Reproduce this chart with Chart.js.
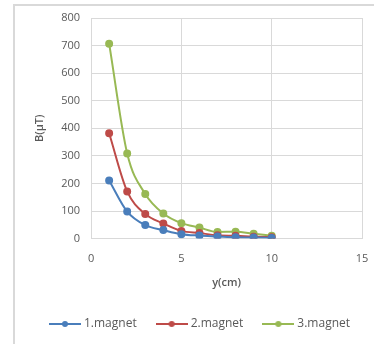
<!DOCTYPE html>
<html>
<head>
<meta charset="utf-8">
<script src="https://cdn.jsdelivr.net/npm/chart.js@4.4.0/dist/chart.umd.min.js"></script>
<style>
  html, body { margin: 0; padding: 0; background: #fff; }
  .frame {
    position: absolute; left: 13px; top: 4px; width: 361px; height: 340px;
    border-left: 2px solid #d9d9d9; border-top: 2px solid #d9d9d9;
    box-sizing: border-box;
  }
  .wrap { position: absolute; left: 0; top: 0; width: 374px; height: 344px; }
</style>
</head>
<body>
<div class="frame"></div>
<div class="wrap"><canvas id="lineChart" width="374" height="344"></canvas></div>
<script>
// data
var distance = [1, 2, 3, 4, 5, 6, 7, 8, 9, 10]
var magnet1 = [211, 98, 49, 31, 16, 11, 8, 5, 4, 2]
var magnet2 = [382, 171, 89, 55, 28, 20, 12, 10, 7, 5]
var magnet3 = [707, 309, 162, 91, 56, 40, 24, 25, 18, 10]
var seriesNames = ['1.magnet', '2.magnet', '3.magnet']
var xTicks = [0, 5, 10, 15]
var yTicks = [0, 100, 200, 300, 400, 500, 600, 700, 800]

var colors = ['#4a7ebb', '#be4b48', '#98b954']

function points(values) {
  return distance.map(function (d, i) { return { x: d, y: values[i] } })
}

// legend marker: short line with a dot
function legendMarker(color) {
  var c = document.createElement('canvas')
  c.width = 32; c.height = 10
  var g = c.getContext('2d')
  g.strokeStyle = color; g.lineWidth = 2
  g.beginPath(); g.moveTo(0, 5); g.lineTo(32, 5); g.stroke()
  g.fillStyle = color
  g.beginPath(); g.arc(16, 5, 3, 0, Math.PI * 2); g.fill()
  return c
}

var allValues = [magnet1, magnet2, magnet3]
var datasets = allValues.map(function (vals, i) {
  return {
    label: seriesNames[i],
    data: points(vals),
    showLine: true,
    borderColor: colors[i],
    backgroundColor: colors[i],
    borderWidth: 2,
    pointRadius: 3,
    pointHoverRadius: 3,
    cubicInterpolationMode: 'monotone'
  }
})

var font = { family: 'Open Sans', size: 11 }
var titleFont = { family: 'Open Sans', size: 11, weight: '600' }
var ctx = document.getElementById('lineChart').getContext('2d')
var chart = new Chart(ctx, {
  type: 'scatter',
  data: { datasets: datasets },
  options: {
    responsive: false,
    animation: false,
    layout: { padding: { left: 28, right: 0, top: 18, bottom: 4 } },
    plugins: {
      tooltip: { enabled: false },
      legend: {
        position: 'bottom',
        labels: {
          color: '#595959',
          font: { family: 'Open Sans', size: 12 },
          usePointStyle: true,
          pointStyleWidth: 26,
          padding: 22,
          generateLabels: function (ch) {
            return ch.data.datasets.map(function (ds, i) {
              return {
                text: ds.label,
                pointStyle: legendMarker(colors[i]),
                fontColor: '#595959',
                strokeStyle: colors[i],
                fillStyle: colors[i],
                lineWidth: 0,
                datasetIndex: i
              }
            })
          }
        }
      }
    },
    scales: {
      x: {
        type: 'linear',
        min: xTicks[0],
        max: xTicks[xTicks.length - 1],
        afterBuildTicks: function (ax) { ax.ticks = xTicks.map(function (v) { return { value: v } }) },
        afterFit: function (ax) { ax.paddingRight = 12 },
        grid: { color: '#d9d9d9', lineWidth: 1, drawTicks: true, tickLength: 14, tickColor: 'rgba(0,0,0,0)' },
        border: { color: '#d9d9d9' },
        ticks: { color: '#595959', font: font, padding: 0 },
        title: { display: true, text: 'y(cm)', color: '#595959', font: titleFont, padding: { top: 10, bottom: 7 } }
      },
      y: {
        min: yTicks[0],
        max: yTicks[yTicks.length - 1],
        afterBuildTicks: function (ax) { ax.ticks = yTicks.map(function (v) { return { value: v } }) },
        grid: { color: '#d9d9d9', lineWidth: 1, drawTicks: false },
        border: { color: '#d9d9d9' },
        ticks: { color: '#595959', font: font, padding: 11 },
        title: { display: true, text: 'B(µT)', color: '#595959', font: titleFont, padding: { top: 5, bottom: 4 } }
      }
    }
  }
})
</script>
</body>
</html>
